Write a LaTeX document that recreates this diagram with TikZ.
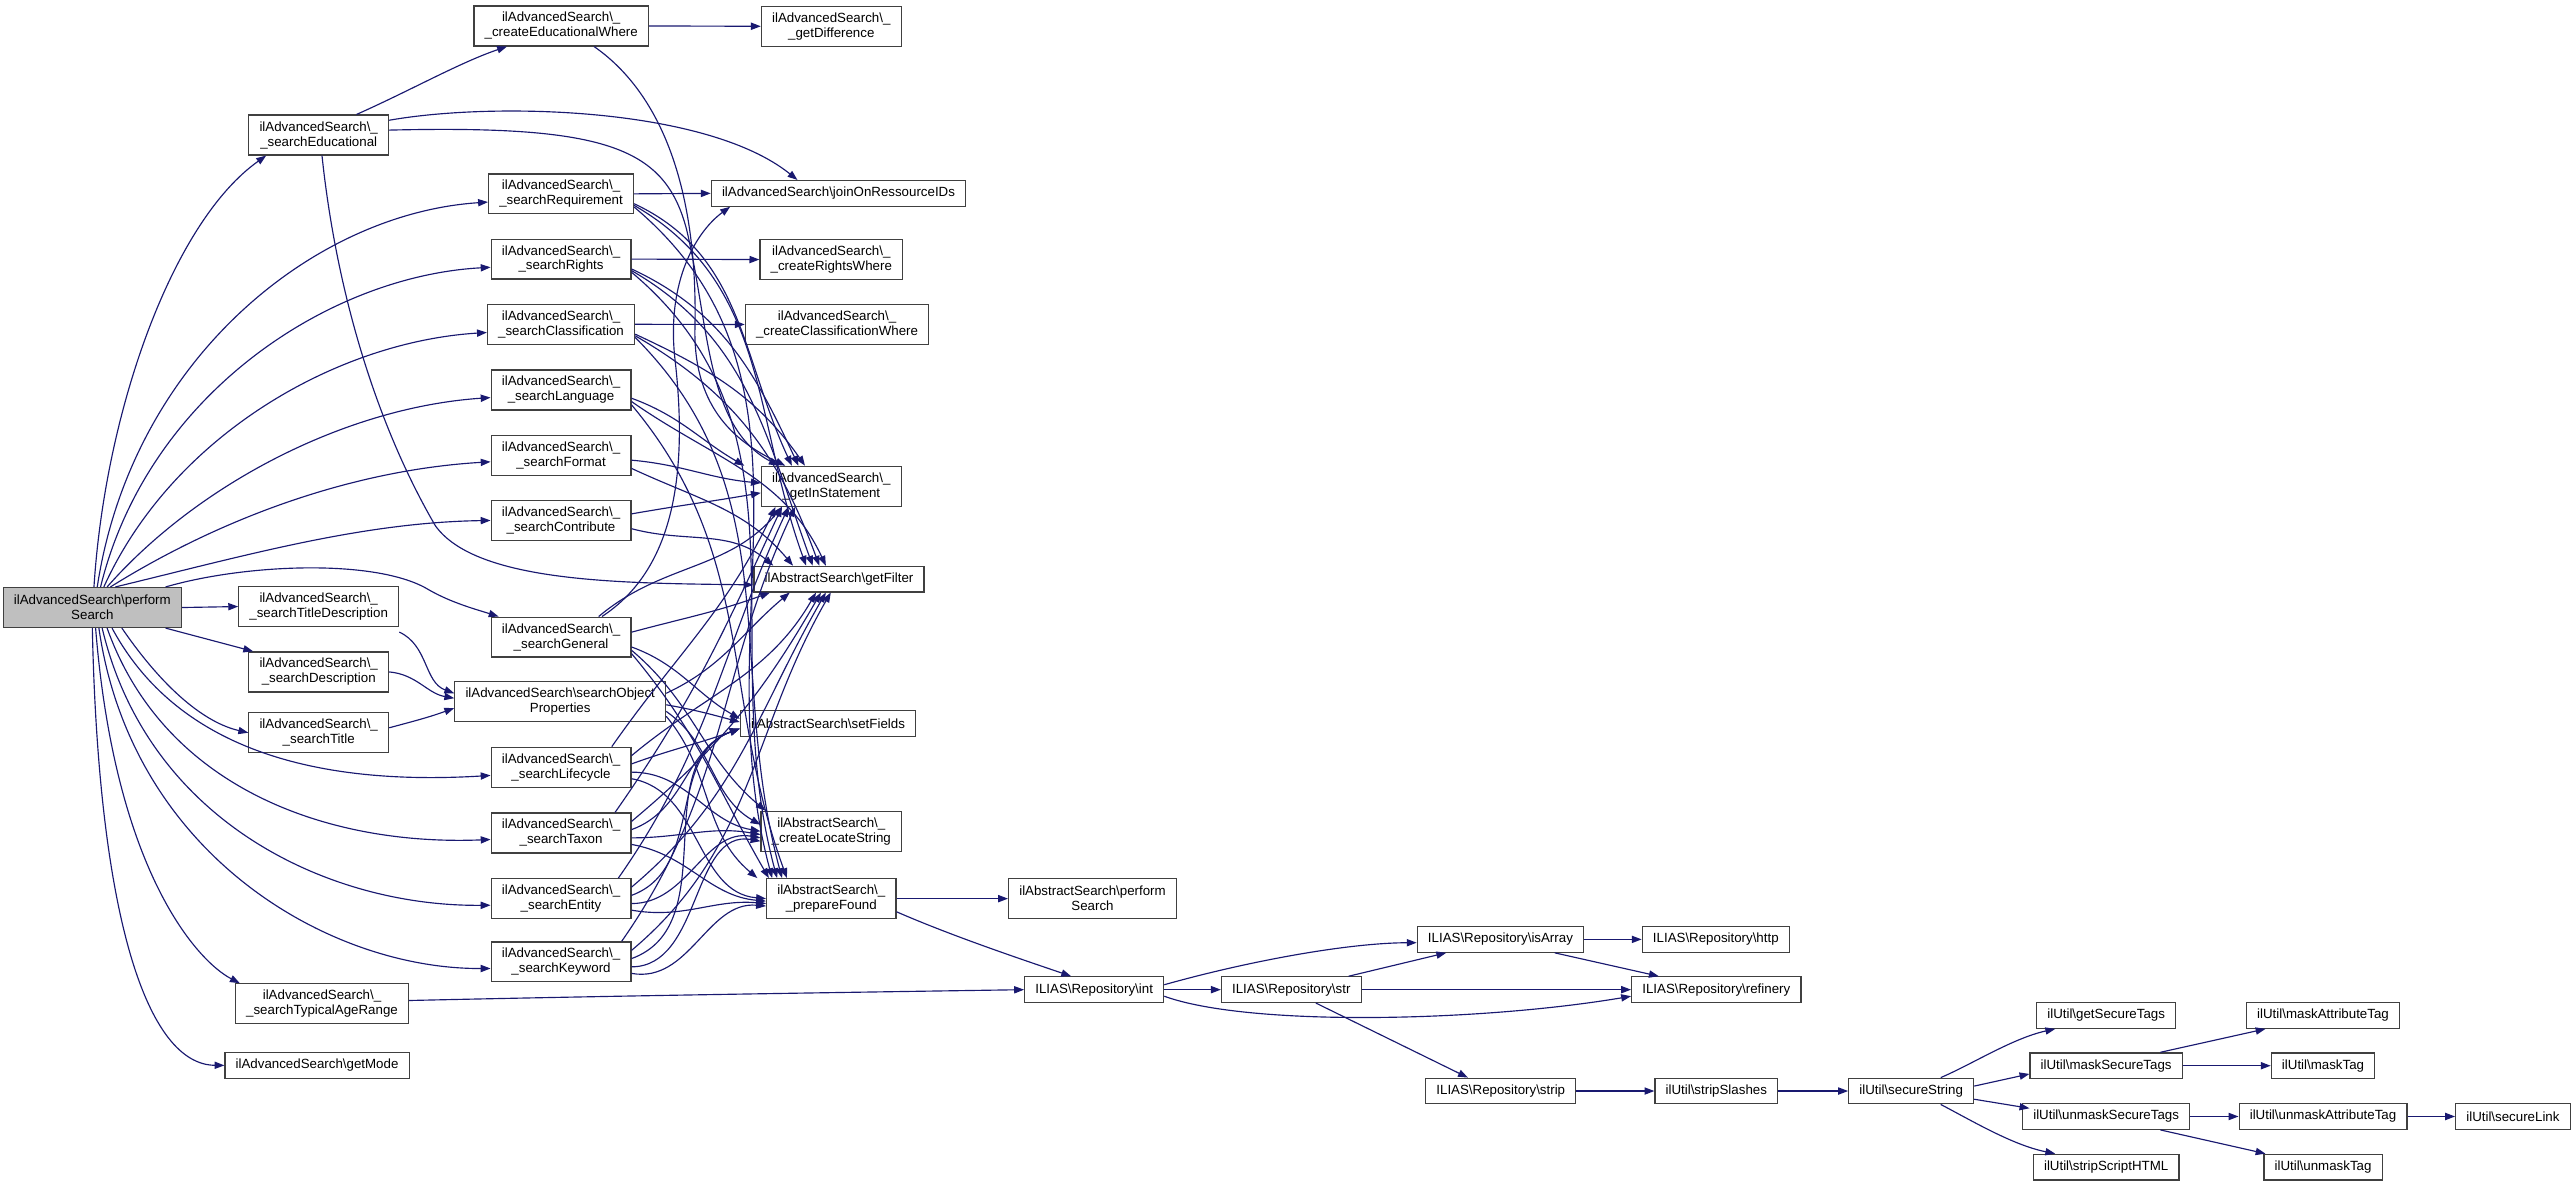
\documentclass[tikz,border=0pt]{standalone}
\usepackage{fontspec}
\setmainfont{Liberation Sans}
\usetikzlibrary{arrows.meta}
\definecolor{edgec}{HTML}{191970}
\definecolor{boxc}{HTML}{404040}
\newcommand\myBS{\textbackslash}
\begin{document}
\begin{tikzpicture}[x=1pt,y=1pt,
 box/.style={draw=boxc, fill=white, line width=0.75pt, inner xsep=6.5pt, inner ysep=0pt, minimum height=15.6pt, align=center, font=\fontsize{8.1}{9.1}\selectfont},
 boxtwo/.style={box, minimum height=24.3pt},
 ed/.style={draw=edgec, line width=0.7pt, -{Triangle[length=6pt,width=4.4pt]}}]
\useasboundingbox (0,0) rectangle (1568,-722);
% column 0
\node[boxtwo, fill=black!25] (P) at (56.2,-369.8) {ilAdvancedSearch\myBS perform\\Search};
% column 1
\node[boxtwo] (E) at (194,-82.2) {ilAdvancedSearch\myBS\_\\\_searchEducational};
\node[boxtwo] (TD) at (194,-369.2) {ilAdvancedSearch\myBS\_\\\_searchTitleDescription};
\node[boxtwo] (Desc) at (194,-409) {ilAdvancedSearch\myBS\_\\\_searchDescription};
\node[boxtwo] (Title) at (194,-446) {ilAdvancedSearch\myBS\_\\\_searchTitle};
\node[boxtwo] (TAR) at (196,-611) {ilAdvancedSearch\myBS\_\\\_searchTypicalAgeRange};
\node[box] (GM) at (193,-648.5) {ilAdvancedSearch\myBS getMode};
% column 2
\node[boxtwo] (CEW) at (341.6,-15.8) {ilAdvancedSearch\myBS\_\\\_createEducationalWhere};
\node[boxtwo] (Req) at (341.5,-118) {ilAdvancedSearch\myBS\_\\\_searchRequirement};
\node[boxtwo] (Rights) at (341.5,-157.7) {ilAdvancedSearch\myBS\_\\\_searchRights};
\node[boxtwo] (Class) at (341.5,-197.4) {ilAdvancedSearch\myBS\_\\\_searchClassification};
\node[boxtwo] (Lang) at (341.5,-237.4) {ilAdvancedSearch\myBS\_\\\_searchLanguage};
\node[boxtwo] (Fmt) at (341.5,-277.1) {ilAdvancedSearch\myBS\_\\\_searchFormat};
\node[boxtwo] (Contrib) at (341.5,-316.8) {ilAdvancedSearch\myBS\_\\\_searchContribute};
\node[boxtwo] (Gen) at (341.5,-387.8) {ilAdvancedSearch\myBS\_\\\_searchGeneral};
\node[boxtwo] (SOP) at (341,-427) {ilAdvancedSearch\myBS searchObject\\Properties};
\node[boxtwo] (Life) at (341.5,-467) {ilAdvancedSearch\myBS\_\\\_searchLifecycle};
\node[boxtwo] (Taxon) at (341.5,-507) {ilAdvancedSearch\myBS\_\\\_searchTaxon};
\node[boxtwo] (Entity) at (341.5,-547) {ilAdvancedSearch\myBS\_\\\_searchEntity};
\node[boxtwo] (Key) at (341.5,-585.5) {ilAdvancedSearch\myBS\_\\\_searchKeyword};
% column 3
\node[boxtwo] (GD) at (506,-16) {ilAdvancedSearch\myBS\_\\\_getDifference};
\node[box] (Join) at (510.4,-117.7) {ilAdvancedSearch\myBS joinOnRessourceIDs};
\node[boxtwo] (CRW) at (506,-158) {ilAdvancedSearch\myBS\_\\\_createRightsWhere};
\node[boxtwo] (CCW) at (509.5,-197.5) {ilAdvancedSearch\myBS\_\\\_createClassificationWhere};
\node[boxtwo] (IS) at (506,-296) {ilAdvancedSearch\myBS\_\\\_getInStatement};
\node[box] (GF) at (510.7,-352.5) {ilAbstractSearch\myBS getFilter};
\node[box] (SF) at (504,-440.5) {ilAbstractSearch\myBS setFields};
\node[boxtwo] (CL) at (506,-506) {ilAbstractSearch\myBS\_\\\_createLocateString};
\node[boxtwo] (PF) at (506,-547) {ilAbstractSearch\myBS\_\\\_prepareFound};
% column 4+
\node[boxtwo] (APS) at (665,-547) {ilAbstractSearch\myBS perform\\Search};
\node[box] (Int) at (666,-602.4) {ILIAS\myBS Repository\myBS int};
\node[box] (Str) at (786,-602.4) {ILIAS\myBS Repository\myBS str};
\node[box] (IsA) at (913.3,-571.8) {ILIAS\myBS Repository\myBS isArray};
\node[box] (Strip) at (913.5,-664.1) {ILIAS\myBS Repository\myBS strip};
\node[box] (Http) at (1044.4,-571.8) {ILIAS\myBS Repository\myBS http};
\node[box] (Ref) at (1044.7,-602.4) {ILIAS\myBS Repository\myBS refinery};
\node[box] (SS) at (1044.7,-664.1) {ilUtil\myBS stripSlashes};
\node[box] (Sec) at (1163.3,-664.1) {ilUtil\myBS secureString};
\node[box] (GST) at (1282,-618.1) {ilUtil\myBS getSecureTags};
\node[box] (MST) at (1282,-648.7) {ilUtil\myBS maskSecureTags};
\node[box] (UST) at (1282,-679.6) {ilUtil\myBS unmaskSecureTags};
\node[box] (SSH) at (1282,-710.4) {ilUtil\myBS stripScriptHTML};
\node[box] (MAT) at (1414,-618.1) {ilUtil\myBS maskAttributeTag};
\node[box] (MT) at (1414,-648.7) {ilUtil\myBS maskTag};
\node[box] (UAT) at (1414,-679.6) {ilUtil\myBS unmaskAttributeTag};
\node[box] (UT) at (1414,-710.4) {ilUtil\myBS unmaskTag};
\node[box] (SL) at (1529.6,-679.6) {ilUtil\myBS secureLink};

% ---- edges from performSearch
\draw[ed] ([xshift=1]P.north) .. controls (64,-250) and (105,-135) .. ([xshift=-32]E.south);
\draw[ed] ([xshift=3]P.north) .. controls (80,-220) and (190,-130) .. ([yshift=-5]Req.west);
\draw[ed] ([xshift=5]P.north) .. controls (90,-240) and (200,-168) .. ([yshift=-5]Rights.west);
\draw[ed] ([xshift=7]P.north) .. controls (105,-265) and (205,-208) .. ([yshift=-5]Class.west);
\draw[ed] ([xshift=9]P.north) .. controls (120,-295) and (210,-248) .. ([yshift=-4.6]Lang.west);
\draw[ed] ([xshift=11]P.north) .. controls (135,-315) and (215,-286) .. ([yshift=-4]Fmt.west);
\draw[ed] ([xshift=14]P.north) .. controls (150,-338) and (220,-318) .. (Contrib.west);
\draw[ed] ([xshift=-10]P.north east) .. controls (150,-343) and (230,-340) .. (261,-359) .. controls (275,-367) and (290,-371) .. ([xshift=-38]Gen.north);
\draw[ed] (P.east) -- (TD.west);
\draw[ed] ([xshift=-10]P.south east) -- ([xshift=3]Desc.north west);
\draw[ed] ([xshift=18]P.south) .. controls (100,-420) and (125,-440) .. (Title.west);
\draw[ed] ([xshift=12]P.south) .. controls (110,-460) and (200,-478) .. ([yshift=-5]Life.west);
\draw[ed] ([xshift=9]P.south) .. controls (100,-480) and (200,-515) .. ([yshift=-4]Taxon.west);
\draw[ed] ([xshift=6]P.south) .. controls (90,-500) and (200,-552) .. ([yshift=-4]Entity.west);
\draw[ed] ([xshift=4]P.south) .. controls (80,-520) and (200,-590) .. ([yshift=-4]Key.west);
\draw[ed] ([xshift=2]P.south) .. controls (70,-530) and (120,-585) .. ([xshift=3]TAR.north west);
\draw[ed] ([xshift=0]P.south) .. controls (60,-560) and (90,-648) .. (GM.west);

% ---- searchEducational
\draw[ed] ([xshift=23]E.north) .. controls (250,-55) and (280,-38) .. ([xshift=-33]CEW.south);
\draw[ed] ([yshift=9]E.east) .. controls (300,-62) and (430,-65) .. ([xshift=-25]Join.north);
\draw[ed] ([yshift=3]E.east) .. controls (370,-76) and (405,-90) .. (418,-140) .. controls (432,-200) and (430,-260) .. ([xshift=-32]IS.north);
\draw[ed] ([xshift=2]E.south) .. controls (205,-180) and (230,-260) .. (265,-320) .. controls (290,-355) and (380,-355) .. ([yshift=-3.5]GF.west);
\draw[ed] (CEW.east) -- (GD.west);
\draw[ed] ([xshift=20]CEW.south) .. controls (400,-55) and (425,-110) .. (423,-200) .. controls (422,-250) and (450,-270) .. ([xshift=-28]IS.north);

% ---- column 2 straight
\draw[ed] (Req.east) -- (Join.west);
\draw[ed] (Rights.east) -- (CRW.west);
\draw[ed] (Class.east) -- (CCW.west);

% ---- column 2 to common helpers
\draw[ed] ([yshift=-6]Req.east) to[out=-25,in=115] ([xshift=-24]IS.north);
\draw[ed] ([yshift=-7]Req.east) to[out=-30,in=110] ([xshift=-20]GF.north);
\draw[ed] ([yshift=-8]Req.east) to[out=-40,in=105] ([xshift=-36]PF.north);
\draw[ed] ([yshift=-6]Rights.east) to[out=-25,in=115] ([xshift=-20]IS.north);
\draw[ed] ([yshift=-7]Rights.east) to[out=-30,in=110] ([xshift=-16]GF.north);
\draw[ed] ([yshift=-8]Rights.east) to[out=-40,in=105] ([xshift=-33]PF.north);
\draw[ed] ([yshift=-6]Class.east) to[out=-25,in=125] ([xshift=-16]IS.north);
\draw[ed] ([yshift=-7]Class.east) to[out=-30,in=110] ([xshift=-12]GF.north);
\draw[ed] ([yshift=-8]Class.east) to[out=-45,in=105] ([xshift=-30]PF.north);
\draw[ed] ([yshift=-5]Lang.east) to[out=-20,in=150] ([xshift=-10]IS.north west);
\draw[ed] ([yshift=-7]Lang.east) to[out=-35,in=115] ([xshift=-8]GF.north);
\draw[ed] ([yshift=-9]Lang.east) to[out=-50,in=110] ([xshift=-27]PF.north);
\draw[ed] ([yshift=-3]Fmt.east) to[out=-5,in=175] ([yshift=2]IS.west);
\draw[ed] ([yshift=-8]Fmt.east) to[out=-25,in=130] ([xshift=-28]GF.north);
\draw[ed] ([yshift=4]Contrib.east) to[out=10,in=190] ([yshift=-4]IS.west);
\draw[ed] ([yshift=-5]Contrib.east) to[out=-15,in=140] ([xshift=-40]GF.north);

% General
\draw[ed] ([xshift=-20]Gen.north east) to[out=40,in=-130] ([xshift=-30]IS.south);
\draw[ed] ([yshift=3]Gen.east) to[out=15,in=-160] ([xshift=-42]GF.south);
\draw[ed] ([xshift=-18]Gen.north east) .. controls (405,-350) and (420,-300) .. (411,-220) .. controls (405,-170) and (425,-140) .. ([xshift=-66]Join.south);
\draw[ed] ([yshift=-6]Gen.east) to[out=-20,in=150] ([yshift=3]SF.west);
\draw[ed] ([yshift=-8]Gen.east) to[out=-40,in=140] ([xshift=-40]CL.north);
\draw[ed] ([yshift=-10]Gen.east) to[out=-50,in=120] ([xshift=-38]PF.north);
% searchObjectProperties
\draw[ed] ([yshift=5]SOP.east) to[out=25,in=-140] ([xshift=-30]GF.south);
\draw[ed] ([yshift=-2]SOP.east) to[out=-10,in=165] ([yshift=1]SF.west);
\draw[ed] ([yshift=-6]SOP.east) to[out=-35,in=150] ([yshift=4]CL.west);
\draw[ed] ([yshift=-9]SOP.east) to[out=-50,in=140] ([xshift=-45]PF.north);
\draw[ed] ([yshift=-3]TD.south east) to[out=-25,in=160] ([yshift=5]SOP.west);
\draw[ed] (Desc.east) to[out=-5,in=170] ([yshift=2]SOP.west);
\draw[ed] ([yshift=3]Title.east) to[out=15,in=200] ([yshift=-4]SOP.west);
% lower search functions
\foreach \n/\s in {Life/0,Taxon/1,Entity/2,Key/3}{
  \draw[ed] ([xshift=-12+2*\s]\n.north east) to[out=55,in=-115] ([xshift=-34+4*\s]IS.south);
  \draw[ed] ([yshift=7]\n.east) to[out=40,in=-120] ([xshift=-14+3*\s]GF.south);
  \draw[ed] ([yshift=2]\n.east) to[out=20,in=-160] ([yshift=-3]SF.west);
  \draw[ed] ([yshift=-3]\n.east) to[out=0,in=170] ([yshift=-2*\s]CL.west);
  \draw[ed] ([yshift=-7]\n.east) to[out=-10,in=175] ([yshift=-1.5*\s]PF.west);
}

% ---- lower chain
\draw[ed] (PF.east) -- (APS.west);
\draw[ed] ([yshift=-8]PF.east) .. controls (580,-570) and (625,-585) .. ([xshift=-14]Int.north);
\draw[ed] ([yshift=2]TAR.east) .. controls (380,-606) and (520,-604) .. (Int.west);
\draw[ed] ([yshift=3]Int.east) .. controls (760,-585) and (820,-574) .. ([yshift=-2]IsA.west);
\draw[ed] (Int.east) -- (Str.west);
\draw[ed] ([yshift=-4]Int.east) .. controls (760,-625) and (900,-622) .. ([yshift=-4]Ref.west);
\draw[ed] ([xshift=-8]Str.north east) -- ([xshift=-33]IsA.south);
\draw[ed] (Str.east) -- (Ref.west);
\draw[ed] ([xshift=15]Str.south) -- ([xshift=-20]Strip.north);
\draw[ed] (IsA.east) -- (Http.west);
\draw[ed] ([xshift=33]IsA.south) -- ([xshift=-35]Ref.north);
\draw[ed] (Strip.east) -- (SS.west);
\draw[ed] (SS.east) -- (Sec.west);
\draw[ed] ([xshift=18]Sec.north) .. controls (1200,-648) and (1225,-632) .. ([xshift=-31]GST.south);
\draw[ed] ([yshift=3]Sec.east) -- ([yshift=-5]MST.west);
\draw[ed] ([yshift=-5]Sec.east) -- ([yshift=5]MST.west |- UST.west);
\draw[ed] ([xshift=18]Sec.south) .. controls (1200,-682) and (1225,-697) .. ([xshift=-31]SSH.north);
\draw[ed] ([xshift=33]MST.north) -- ([xshift=-35]MAT.south);
\draw[ed] (MST.east) -- (MT.west);
\draw[ed] (UST.east) -- (UAT.west);
\draw[ed] ([xshift=33]UST.south) -- ([xshift=-35]UT.north);
\draw[ed] (UAT.east) -- (SL.west);
\end{tikzpicture}
\end{document}
